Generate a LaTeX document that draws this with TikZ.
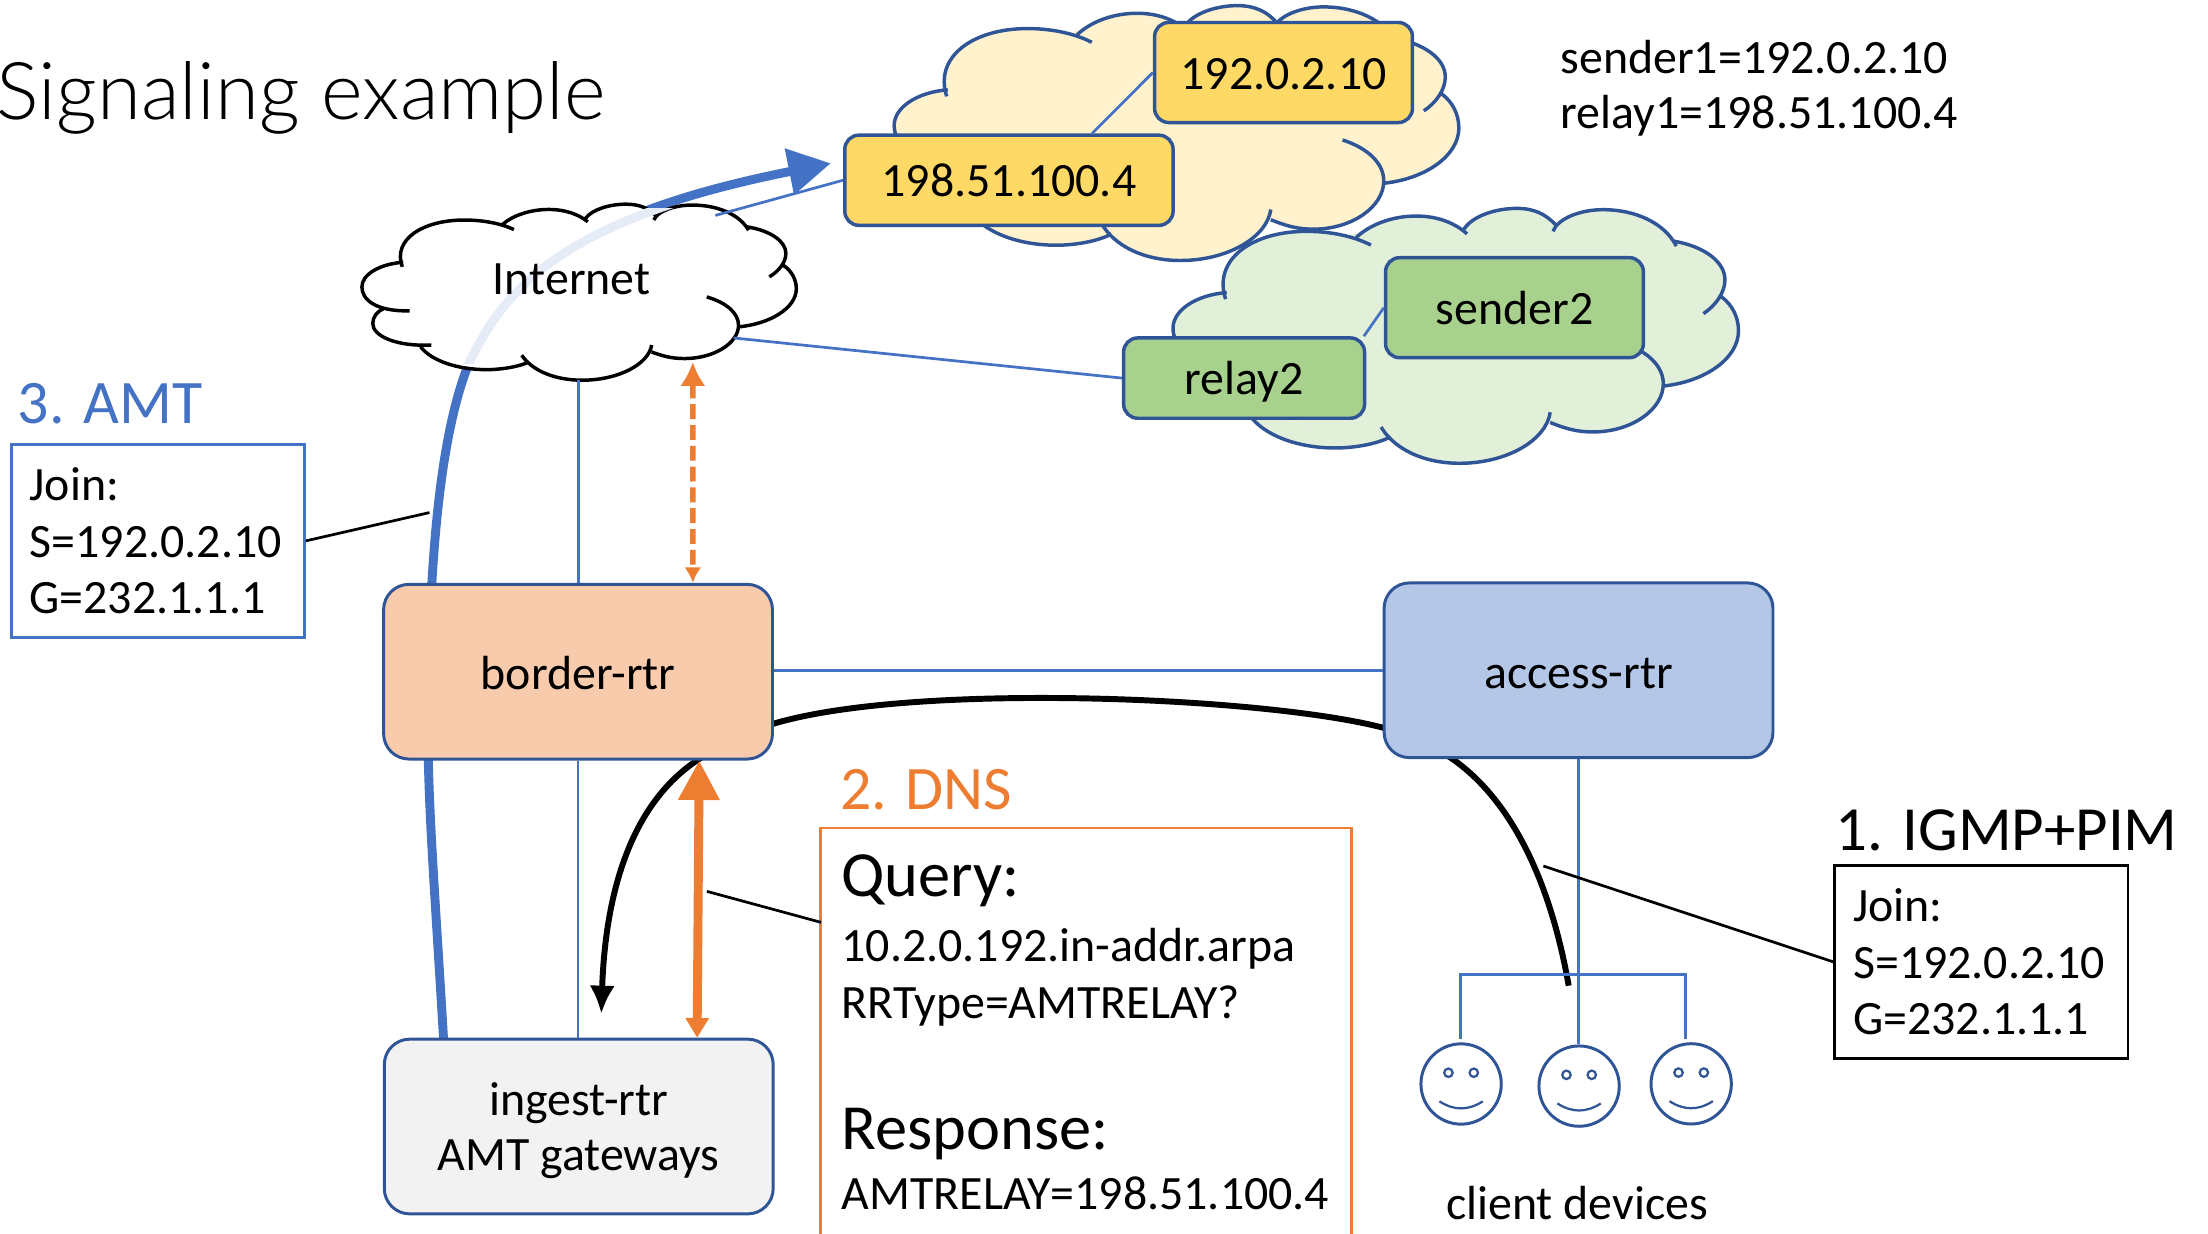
\documentclass[tikz,border=0pt]{standalone}
\usepackage{fontspec}
\setmainfont{Carlito}
\newfontfamily\lightfont{Lato}[UprightFont=* Light]
\usetikzlibrary{
	arrows.meta,
	positioning
}
\definecolor{linkblue}{HTML}{4472C4}
\definecolor{darkblue}{HTML}{2F5597}
\definecolor{paleblue}{HTML}{E6ECF7}
\definecolor{dnsorange}{HTML}{ED7D31}
\definecolor{paleyellow}{HTML}{FFF2CC}
\definecolor{palegreen}{HTML}{E2F0D9}
\definecolor{hostyellow}{HTML}{FFD966}
\definecolor{hostgreen}{HTML}{A9D18E}
\definecolor{borderfill}{HTML}{F8CBAD}
\definecolor{accessfill}{HTML}{B4C7E7}
\definecolor{ingestfill}{HTML}{F2F2F2}
\tikzset{
	rtr/.style={draw=darkblue,line width=.6pt,rounded corners=.18cm,minimum width=2.76cm,minimum height=1.24cm,align=center,text height=.255cm,text depth=0pt,font=\fontsize{9.67}{11.2}\selectfont},
	host/.style={draw=darkblue,line width=.7pt,rounded corners=.1cm,text height=.25cm,text depth=.015cm,font=\fontsize{9.67}{11.2}\selectfont},
	link/.style={draw=linkblue,line width=.55pt},
	leader/.style={draw=black,line width=.55pt},
	txt/.style={anchor=base west,inner sep=0pt,font=\fontsize{9.67}{11.2}\selectfont},
	bigtxt/.style={anchor=base west,inner sep=0pt,font=\fontsize{12.5}{15}\selectfont},
	headtxt/.style={anchor=base west,inner sep=0pt,font=\fontsize{13}{15}\selectfont},
	joinbox/.style={draw,line width=.6pt,minimum height=1.37cm,align=left,text width=1.82cm,inner xsep=.13cm,font=\fontsize{9.67}{11.4}\selectfont},
	face/.style={circle,draw=darkblue,line width=.6pt,minimum size=.57cm,inner sep=0pt},
	feature/.style={draw=darkblue,line width=.45pt}
}
\newcommand{\drawcloud}[5]{
	\begin{scope}[shift={(#1,#2)},xscale=#3,yscale=#4]
		\fill[#5,draw=none] (11,62) -- (8,35) -- (32,10) -- (52,7) -- (68,6) -- (90,14) -- (97,35) -- (87,69.5) -- (74,87) -- (66.7,84) -- (40,91) -- (13.5,80.5) -- cycle;
		\path[#5,line width=.7pt]
			(11,60.6) .. controls (3,61) and (0,54) .. (0,47) .. controls (0,40) and (4,34) .. (9.5,33)
			(9.3,35.6) .. controls (7,20) and (14,9) .. (23.6,9) .. controls (28,9) and (32,11) .. (35,14.4)
			(32.4,11.4) .. controls (35,6) and (39,3) .. (43,3) .. controls (47,3) and (50,6) .. (52,10)
			(51.5,8) .. controls (53,3) and (57,0) .. (60.8,0) .. controls (64,0) and (66,2.5) .. (67.6,6.3)
			(67.2,9) .. controls (68,4) and (72,.5) .. (76,.5) .. controls (82,.5) and (87,6) .. (89,14.8)
			(88.7,12.9) .. controls (94,15) and (97.6,21) .. (97.6,28) .. controls (97.6,33) and (96,38) .. (93.8,41.3)
			(97,34.7) .. controls (99,38) and (100,43) .. (100,48) .. controls (100,59) and (94,68) .. (86.7,69.7)
			(79.4,52.7) .. controls (84,56) and (86.7,62) .. (86.7,68.8) .. controls (86.7,79) and (81,87.7) .. (74.3,87.7) .. controls (71,87.7) and (69,86) .. (66.7,84)
			(66.7,80) .. controls (66,91) and (59,100) .. (50.7,100) .. controls (44,100) and (39,94) .. (36.8,85.8)
			(38.5,89.6) .. controls (36,92.5) and (32,94) .. (28.7,94) .. controls (22,94) and (16,89) .. (13.5,81)
			(16,80) .. controls (8,81) and (2.5,75) .. (2.5,67.8) .. controls (2.5,64) and (3.5,61) .. (5,59.3);
	\end{scope}
}

\begin{document}
\begin{tikzpicture}[x=.01cm,y=-.01cm]
	\useasboundingbox (0,0) rectangle (1568,876);

	\coordinate (amtStart) at (315,738);
	\coordinate (amtTip) at (590,116);
	\coordinate (amtEnd) at (305,364);
	\coordinate (inetNE) at (508,153);
	\coordinate (inetE) at (521,240);
	\coordinate (inetS) at (411,270);
	\coordinate (inetB) at (492,257);
	\coordinate (igmpEnd) at (1114,700);
	\coordinate (igmpLeader) at (1096,615);
	\coordinate (gwTip) at (427,720);
	\coordinate (dnsEnd) at (502,633);
	\coordinate (dnsBox) at (583,655);

	\drawcloud{635}{4}{4.01}{1.81}{fill=paleyellow,draw=darkblue}
	\drawcloud{833}{148}{4.016}{1.81}{fill=palegreen,draw=darkblue}

	% thick paths run under the routers
	\draw[linkblue,line width=1.8pt,-{Triangle[length=.3cm,width=.32cm]}] (amtStart) .. controls (308,620) and (303,560) .. (304,500) .. controls (305,400) and (312,310) .. (333,258) .. controls (365,190) and (420,150) .. (amtTip);
	\draw[line width=1.2pt,-{Latex[length=.2cm,width=.18cm]}] (igmpEnd) .. controls (1100,620) and (1070,565) .. (1030,538) .. controls (1010,525) and (1000,520) .. (983,517) .. controls (900,495) and (650,484) .. (549,514) .. controls (530,522) and (510,530) .. (495,540) .. controls (450,570) and (430,630) .. (gwTip);

	\node[rtr,fill=borderfill] (border) at (410.5,477) {border-rtr};
	\node[rtr,fill=accessfill] (access) at (1121,476) {access-rtr};
	\node[rtr,fill=ingestfill,text height=.63cm] (ingest) at (411,800) {ingest-rtr\\AMT gateways};

	\drawcloud{257}{145}{3.085}{1.25}{fill=white,draw=black}
	\begin{scope}
		\clip (300,148) rectangle (480,258);
		\draw[paleblue,line width=1.8pt] (304,500) .. controls (305,400) and (312,310) .. (333,258) .. controls (365,190) and (420,150) .. (amtTip);
	\end{scope}
	\node[inner sep=0pt,font=\fontsize{9.67}{11.2}\selectfont] (inet) at (406,198) {Internet};

	\node[host,fill=hostyellow,minimum width=2.33cm,minimum height=.64cm] (relayA) at (716.5,128) {198.51.100.4};
	\node[host,fill=hostyellow,minimum width=1.83cm,minimum height=.71cm] (senderA) at (911.5,51.5) {192.0.2.10};
	\node[host,fill=hostgreen,minimum width=1.71cm,minimum height=.57cm] (relayB) at (883.5,268.5) {relay2};
	\node[host,fill=hostgreen,minimum width=1.83cm,minimum height=.71cm] (senderB) at (1075.5,218.5) {sender2};

	\draw[link] (inetNE) -- (relayA.west);
	\draw[link] (senderA.west) -- ([xshift=.59cm]relayA.north);
	\draw[link] (inetE) -- (relayB.west);
	\draw[link] (senderB.west) -- ([xshift=.85cm]relayB.north);
	\draw[link] (inetS) -- (inetS |- border.north);
	\draw[link] (border.south) -- (border.south |- ingest.north);
	\draw[link] (border.east |- access.west) -- (access.west);

	\draw[dnsorange,line width=1.1pt,dash pattern=on 3pt off 1.2pt,{Latex[length=.17cm,width=.18cm]}-{Latex[length=.11cm,width=.12cm]}] (inetB) -- ([xshift=.815cm]border.north);
	\draw[dnsorange,line width=1.8pt,{Triangle[length=.28cm,width=.28cm]}-{Triangle[length=.14cm,width=.16cm]}] ([xshift=.86cm]border.south) -- ([xshift=.84cm]ingest.north);

	\foreach \name/\cx/\cy in {faceA/1037.6/769.8,faceB/1121.4/771.3,faceC/1201/769.7}{
		\node[face] (\name) at (\cx,\cy) {};
		\draw[feature] (\cx-9,\cy-8) circle (3);
		\draw[feature] (\cx+9,\cy-8) circle (3);
		\draw[feature] (\cx-15.4,\cy+12.3) .. controls (\cx-5,\cy+19) and (\cx+5,\cy+19) .. (\cx+15.4,\cy+12.3);
	}
	\draw[link] (access.south) -- (access.south |- faceB.north);
	\draw[link] (1037,738) -- (1037,692) -- (1197,692) -- (1197,738);
	\node[txt,anchor=base] (clients) at (1120,866) {client devices};

	\node[inner sep=0pt,anchor=base west,font=\lightfont\fontsize{16.1}{20}\selectfont] (title) at (-3,85) {Signaling example};
	\node[txt] (sender1) at (1107.5,52) {sender1=192.0.2.10};
	\node[txt] (relay1) at (1107.5,91) {relay1=198.51.100.4};

	\node[bigtxt,linkblue] (amtTitle) at (12,301) {3. AMT};
	\node[joinbox,draw=linkblue,anchor=north west] (amtBox) at (7,314.5) {Join:\\S=192.0.2.10\\G=232.1.1.1};
	\draw[leader] (amtBox.east) -- (amtEnd);

	\node[bigtxt,dnsorange] (dnsTitle) at (596,575) {2. DNS};
	\draw[dnsorange,line width=.6pt] (583,876) -- (583,588) -- (960,588) -- (960,876);
	\node[headtxt] (query) at (597,637) {Query:};
	\node[txt] (qname) at (597,683) {10.2.0.192.in-addr.arpa};
	\node[txt] (qtype) at (597,723) {RRType=AMTRELAY?};
	\node[headtxt] (response) at (597,816) {Response:};
	\node[txt] (answer) at (597,859) {AMTRELAY=198.51.100.4};
	\draw[leader] (dnsBox) -- (dnsEnd);

	\node[bigtxt,font=\fontsize{12.7}{15}\selectfont] (igmpTitle) at (1303,604) {1. IGMP+PIM};
	\node[joinbox,anchor=north west] (igmpBox) at (1302,613.5) {Join:\\S=192.0.2.10\\G=232.1.1.1};
	\draw[leader] (igmpBox.west) -- (igmpLeader);
\end{tikzpicture}
\end{document}
